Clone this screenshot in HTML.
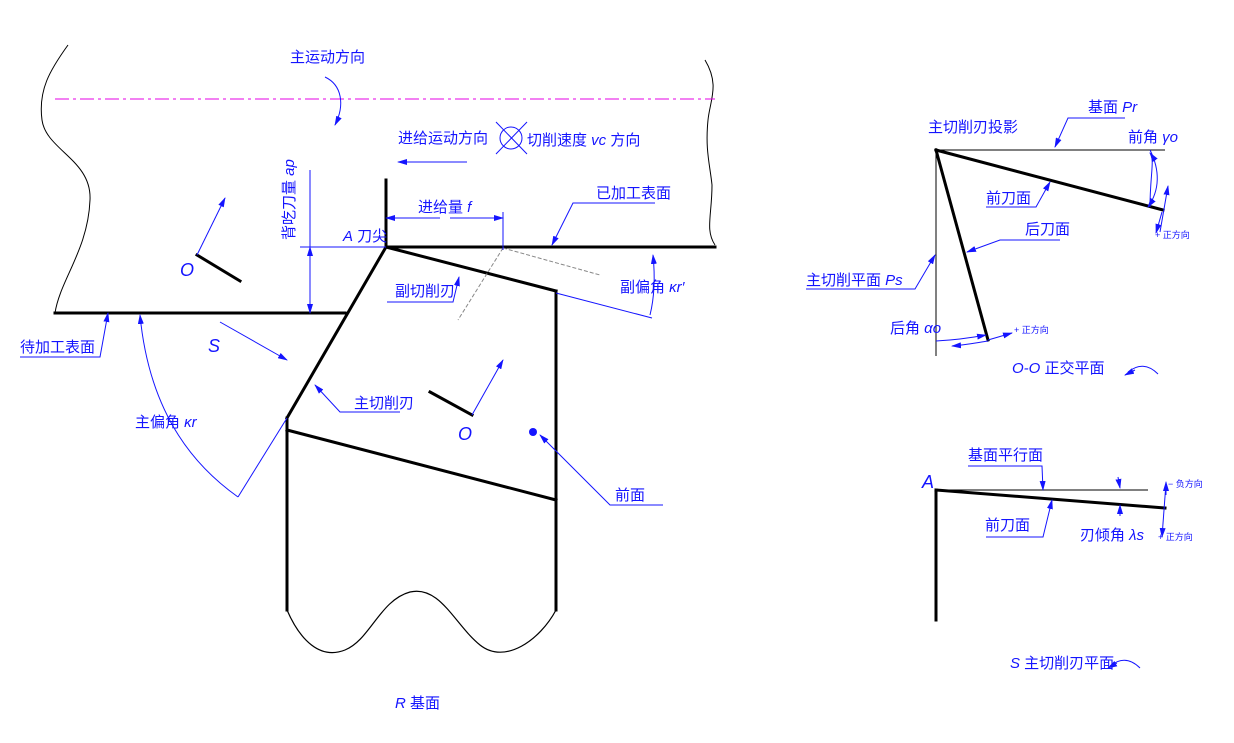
<!DOCTYPE html>
<html><head><meta charset="utf-8"><style>
html,body{margin:0;padding:0;background:#fff;}
svg{display:block}
text{font-family:"Liberation Sans","Noto Sans CJK SC",sans-serif;fill:#1414ff;font-size:15px}
.i{font-style:italic}
.s{font-size:9px}
.b{font-size:18px}
</style></head><body>
<svg width="1234" height="743" viewBox="0 0 1234 743" xmlns="http://www.w3.org/2000/svg">
<defs><marker id="a" markerWidth="10" markerHeight="6" refX="9" refY="3" orient="auto" markerUnits="userSpaceOnUse"><path d="M0,0 L10,3 L0,6 z" fill="#1414ff"/></marker></defs>
<g fill="none" stroke="#000" stroke-width="1">
<path d="M68,45 C50,70 38,90 42,120 C46,150 92,160 90,200 C88,250 60,280 55,313"/>
<path d="M705,60 C720,85 710,100 708,120 C705,150 710,165 712,185 C712,215 705,230 715,245"/>
</g>
<line x1="55" y1="99" x2="715" y2="99" stroke="#e600e6" stroke-width="1" stroke-dasharray="14,4,3,4"/>
<g stroke="#000" stroke-width="3" fill="none" stroke-linecap="square">
<line x1="386" y1="247" x2="715" y2="247"/>
<line x1="55" y1="313" x2="345" y2="313"/>
<line x1="386" y1="180" x2="386" y2="247"/>
<line x1="386" y1="247" x2="287" y2="418"/>
<line x1="386" y1="247" x2="556" y2="291"/>
<line x1="556" y1="291" x2="556" y2="610"/>
<line x1="287" y1="418" x2="287" y2="610"/>
<line x1="287" y1="430" x2="556" y2="500"/>
<line x1="197" y1="255" x2="240" y2="281"/>
<line x1="430" y1="392" x2="472" y2="415"/>
<line x1="936" y1="150" x2="1163" y2="210"/>
<line x1="936" y1="150" x2="988" y2="340"/>
<line x1="936" y1="490" x2="936" y2="620"/>
<line x1="936" y1="490" x2="1165" y2="508"/>
</g>
<path d="M287,610 C300,640 320,660 345,650 C370,640 380,600 410,592 C440,585 455,625 480,645 C505,665 540,640 556,610" fill="none" stroke="#000" stroke-width="1.2"/>
<g stroke="#000" stroke-width="1" fill="none">
<line x1="936" y1="150" x2="1165" y2="150"/>
<line x1="936" y1="150" x2="936" y2="356"/>
<line x1="936" y1="490" x2="1148" y2="490"/>
</g>
<g stroke="#888" stroke-width="1" stroke-dasharray="4,2" fill="none">
<line x1="503" y1="248" x2="458" y2="320"/>
<line x1="503" y1="248" x2="600" y2="275"/>
</g>
<g stroke="#1414ff" stroke-width="1" fill="none">
<path d="M325,77 C342,85 345,105 335,125" marker-end="url(#a)"/>
<line x1="467" y1="162" x2="398" y2="162" marker-end="url(#a)"/>
<circle cx="511" cy="138" r="11"/>
<line x1="496" y1="122" x2="527" y2="154"/><line x1="527" y1="122" x2="496" y2="154"/>
<line x1="197" y1="255" x2="225" y2="198" marker-end="url(#a)"/>
<line x1="472" y1="415" x2="503" y2="360" marker-end="url(#a)"/>
<line x1="220" y1="322" x2="287" y2="360" marker-end="url(#a)"/>
<line x1="300" y1="247" x2="386" y2="247"/>
<line x1="310" y1="170" x2="310" y2="313"/>
<line x1="310" y1="255" x2="310" y2="247" marker-end="url(#a)"/>
<line x1="310" y1="300" x2="310" y2="313" marker-end="url(#a)"/>
<line x1="503" y1="212" x2="503" y2="250"/>
<line x1="440" y1="218" x2="386" y2="218" marker-end="url(#a)"/>
<line x1="450" y1="218" x2="503" y2="218" marker-end="url(#a)"/>
<path d="M655,203 L573,203 L552,245" marker-end="url(#a)"/>
<path d="M387,302 L453,302 L459,277" marker-end="url(#a)"/>
<line x1="556" y1="293" x2="652" y2="318"/>
<path d="M650,315 C655,295 655,275 653,255" marker-end="url(#a)"/>
<path d="M20,357 L100,357 L108,313" marker-end="url(#a)"/>
<path d="M238,497 C200,470 150,420 140,315" marker-end="url(#a)"/>
<line x1="238" y1="497" x2="287" y2="418"/>
<path d="M400,412 L340,412 L315,385" marker-end="url(#a)"/>
<path d="M663,505 L610,505 L540,435" marker-end="url(#a)"/>
<path d="M1125,118 L1068,118 L1055,147" marker-end="url(#a)"/>
<path d="M986,207 L1036,207 L1050,182" marker-end="url(#a)"/>
<path d="M1060,240 L1000,240 L967,252" marker-end="url(#a)"/>
<path d="M806,289 L915,289 L935,255" marker-end="url(#a)"/>
<path d="M1150,150 C1160,170 1160,190 1148,207" marker-end="url(#a)"/>
<path d="M1150,207 C1150,175 1155,160 1150,153" marker-end="url(#a)"/>
<path d="M1160,232 L1168,186" marker-end="url(#a)"/>
<path d="M1162,212 L1156,233" marker-end="url(#a)"/>
<path d="M936,341 C955,340 970,338 986,335" marker-end="url(#a)"/>
<path d="M988,341 C975,343 965,345 952,346" marker-end="url(#a)"/>
<path d="M988,340 L1012,333" marker-end="url(#a)"/>
<path d="M1128,372 C1138,364 1148,364 1158,374" /><path d="M1135,370 L1125,375" marker-end="url(#a)"/>
<path d="M968,466 L1042,466 L1043,490" marker-end="url(#a)"/>
<path d="M986,537 L1043,537 L1052,500" marker-end="url(#a)"/>
<path d="M1118,477 L1120,488" marker-end="url(#a)"/>
<path d="M1120,516 L1120,505" marker-end="url(#a)"/>
<path d="M1166,483 L1162,537" marker-end="url(#a)"/>
<path d="M1166,495 L1166,482" marker-end="url(#a)"/>
<path d="M1110,666 C1120,658 1130,658 1140,668"/><path d="M1117,663 L1108,668" marker-end="url(#a)"/>
</g>
<circle cx="533" cy="432" r="4" fill="#1414ff"/>
<text x="290" y="62">主运动方向</text>
<text x="398" y="143">进给运动方向</text>
<text x="527" y="145">切削速度 <tspan class="i">vc</tspan> 方向</text>
<text x="418" y="212">进给量 <tspan class="i">f</tspan></text>
<text x="343" y="241"><tspan class="i">A</tspan> 刀尖</text>
<text x="596" y="198">已加工表面</text>
<text x="395" y="296">副切削刃</text>
<text x="620" y="292">副偏角 <tspan class="i">κr′</tspan></text>
<text x="20" y="352">待加工表面</text>
<text x="208" y="352" class="i b">S</text>
<text x="135" y="427">主偏角 <tspan class="i">κr</tspan></text>
<text x="354" y="408">主切削刃</text>
<text x="180" y="276" class="i b">O</text>
<text x="458" y="440" class="i b">O</text>
<text x="615" y="500">前面</text>
<text x="395" y="708"><tspan class="i">R</tspan> 基面</text>
<text transform="translate(294,240) rotate(-90)">背吃刀量 <tspan class="i">ap</tspan></text>
<text x="1088" y="112">基面 <tspan class="i">Pr</tspan></text>
<text x="928" y="132">主切削刃投影</text>
<text x="1128" y="142">前角 <tspan class="i">γo</tspan></text>
<text x="986" y="203">前刀面</text>
<text x="1025" y="234">后刀面</text>
<text x="806" y="285">主切削平面 <tspan class="i">Ps</tspan></text>
<text x="890" y="333">后角 <tspan class="i">αo</tspan></text>
<text x="1014" y="333" class="s">+ 正方向</text>
<text x="1155" y="238" class="s">+ 正方向</text>
<text x="1012" y="373"><tspan class="i">O-O</tspan> 正交平面</text>
<text x="968" y="460">基面平行面</text>
<text x="922" y="488" class="i b">A</text>
<text x="985" y="530">前刀面</text>
<text x="1080" y="540">刃倾角 <tspan class="i">λs</tspan></text>
<text x="1168" y="487" class="s">− 负方向</text>
<text x="1158" y="540" class="s">+ 正方向</text>
<text x="1010" y="668"><tspan class="i">S</tspan> 主切削刃平面</text>
</svg>
</body></html>
